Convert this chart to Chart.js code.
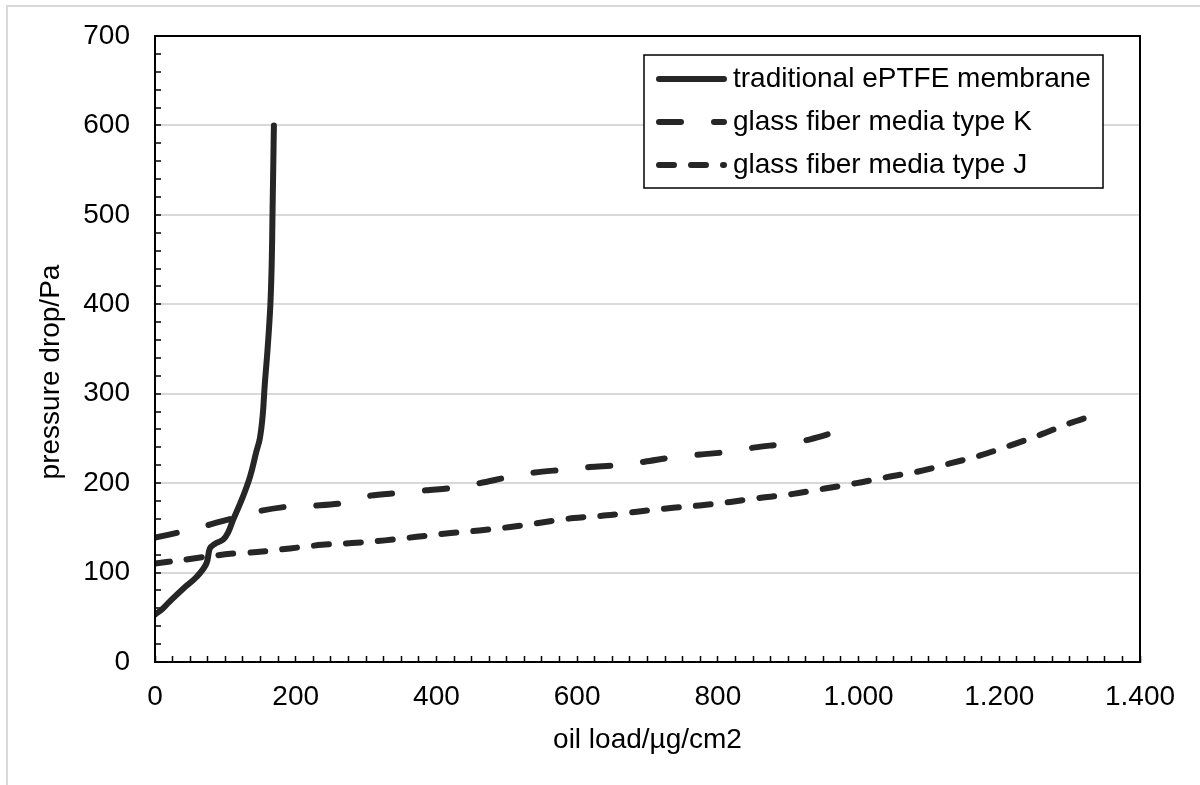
<!DOCTYPE html>
<html>
<head>
<meta charset="utf-8">
<title>pressure drop vs oil load</title>
<script src="https://cdn.jsdelivr.net/npm/chart.js@4.4.0/dist/chart.umd.min.js"></script>
<style>
  html, body { margin: 0; padding: 0; background: #fff; }
  #wrap { width: 1200px; height: 785px; }
</style>
</head>
<body>
<div id="wrap"><canvas id="pressureChart" width="1200" height="785"></canvas></div>
<script>
// values: oil load in µg/cm2, pressure drop in Pa
const eptfeLoad = [0, 10, 20, 40, 59, 73, 78, 85, 97, 104, 111, 124, 135, 144, 149, 153, 156, 160, 164, 166, 167, 168, 169];
const eptfePressure = [53, 59, 67, 82, 95, 110, 127, 132, 137, 145, 159, 183, 207, 235, 250, 275, 310, 350, 400, 450, 500, 550, 600];

const typeKLoad = [0, 40, 75, 107, 150, 192, 230, 270, 306, 348, 385, 426, 462, 504, 540, 581, 618, 658, 696, 738, 775, 816, 853, 895, 931, 971];
const typeKPressure = [139, 146, 153, 160, 169, 174, 175, 178, 186, 189, 192, 195, 200, 207, 212, 215, 218, 220, 224, 229, 232, 235, 240, 244, 249, 258];

const typeJLoad = [0, 38, 76, 107, 145, 192, 237, 280, 327, 372, 417, 461, 505, 550, 595, 642, 685, 730, 774, 818, 864, 907, 952, 997, 1042, 1085, 1130, 1173, 1215, 1258, 1300, 1335];
const typeJPressure = [110, 114, 118, 121, 123, 127, 131, 133, 136, 140, 144, 147, 151, 156, 161, 164, 168, 172, 175, 179, 184, 188, 194, 200, 207, 213, 222, 231, 242, 254, 267, 276];

const seriesNames = ['traditional ePTFE membrane', 'glass fiber media type K', 'glass fiber media type J'];
const xTitle = 'oil load/µg/cm2';
const yTitle = 'pressure drop/Pa';

const FONT = '"Liberation Sans", Arial, sans-serif';
const LINE_COLOR = '#262626';

Chart.defaults.font.family = FONT;
Chart.defaults.font.size = 28;
Chart.defaults.color = '#000';

const toPoints = (xs, ys) => xs.map((x, i) => ({ x: x, y: ys[i] }));

// 1.000 style thousands separator, like the source
const fmtLoad = (v) => {
  if (v < 1000) return String(v);
  const rest = String(v % 1000).padStart(3, '0');
  return Math.floor(v / 1000) + '.' + rest;
};

// frame, axis titles and the boxed legend
const extras = {
  id: 'extras',
  beforeDraw(chart) {
    const ctx = chart.ctx;
    ctx.save();
    ctx.strokeStyle = '#d9d9d9';
    ctx.lineWidth = 2;
    ctx.beginPath();
    ctx.moveTo(7, 785);
    ctx.lineTo(7, 6);
    ctx.lineTo(1200, 6);
    ctx.stroke();
    ctx.restore();
  },
  afterDraw(chart) {
    const ctx = chart.ctx;
    const a = chart.chartArea;
    ctx.save();
    ctx.strokeStyle = '#000';
    ctx.lineWidth = 2;
    ctx.strokeRect(a.left, a.top, a.right - a.left, a.bottom - a.top);

    ctx.fillStyle = '#000';
    ctx.font = '28px ' + FONT;
    ctx.textAlign = 'center';
    ctx.textBaseline = 'alphabetic';
    ctx.fillText(xTitle, (a.left + a.right) / 2, a.bottom + 86);

    ctx.save();
    ctx.translate(51, a.bottom - 290);
    ctx.rotate(-Math.PI / 2);
    ctx.textBaseline = 'middle';
    ctx.fillText(yTitle, 0, 0);
    ctx.restore();

    // legend
    const bx = a.right - 496, by = a.top + 19, bw = 459, bh = 133;
    ctx.fillStyle = '#fff';
    ctx.fillRect(bx, by, bw, bh);
    ctx.lineWidth = 1.5;
    ctx.strokeRect(bx, by, bw, bh);
    chart.data.datasets.forEach((ds, i) => {
      const cy = by + 24 + i * 43;
      ctx.save();
      ctx.strokeStyle = ds.borderColor;
      ctx.lineWidth = ds.borderWidth;
      ctx.lineCap = 'round';
      ctx.setLineDash(ds.borderDash || []);
      ctx.beginPath();
      ctx.moveTo(bx + 15, cy);
      ctx.lineTo(bx + 80, cy);
      ctx.stroke();
      ctx.restore();
      ctx.fillStyle = '#000';
      ctx.textAlign = 'left';
      ctx.textBaseline = 'middle';
      ctx.fillText(ds.label, bx + 89, cy);
    });
    ctx.restore();
  }
};

new Chart(document.getElementById('pressureChart').getContext('2d'), {
  type: 'line',
  data: {
    datasets: [
      {
        label: seriesNames[0],
        data: toPoints(eptfeLoad, eptfePressure),
        borderColor: LINE_COLOR,
        borderWidth: 6,
        borderCapStyle: 'round',
        borderDash: [],
        tension: 0.4,
        pointRadius: 0
      },
      {
        label: seriesNames[1],
        data: toPoints(typeKLoad, typeKPressure),
        borderColor: LINE_COLOR,
        borderWidth: 6,
        borderCapStyle: 'round',
        borderDash: [22, 33],
        tension: 0.3,
        pointRadius: 0
      },
      {
        label: seriesNames[2],
        data: toPoints(typeJLoad, typeJPressure),
        borderColor: LINE_COLOR,
        borderWidth: 6,
        borderCapStyle: 'round',
        borderDash: [15, 17],
        tension: 0.3,
        pointRadius: 0
      }
    ]
  },
  options: {
    responsive: false,
    animation: false,
    layout: { padding: { left: 0, top: 36, right: 60, bottom: 0 } },
    plugins: {
      legend: { display: false },
      tooltip: { enabled: false }
    },
    scales: {
      x: {
        type: 'linear',
        min: 0,
        max: 1400,
        afterFit: (scale) => {
          scale.height = 123;
          scale.paddingLeft = 0;
          scale.paddingRight = 0;
        },
        border: { color: '#000', width: 2 },
        grid: {
          drawOnChartArea: false,
          tickLength: -6,
          tickColor: '#000',
          tickWidth: 1.5
        },
        ticks: {
          stepSize: 25,
          maxTicksLimit: 200,
          autoSkip: false,
          minRotation: 0,
          maxRotation: 0,
          padding: 24,
          color: '#000',
          callback: (v) => (v % 200 === 0 ? fmtLoad(v) : '')
        }
      },
      y: {
        min: 0,
        max: 700,
        afterFit: (scale) => {
          scale.width = 155;
          scale.paddingTop = 0;
          scale.paddingBottom = 0;
        },
        border: { color: '#000', width: 2 },
        grid: {
          color: (c) => (c.tick && c.tick.value % 100 === 0 ? '#d9d9d9' : 'rgba(0,0,0,0)'),
          lineWidth: 2,
          tickLength: -6,
          tickColor: '#000',
          tickWidth: 1.5
        },
        ticks: {
          stepSize: 20,
          maxTicksLimit: 200,
          autoSkip: false,
          padding: 31,
          color: '#000',
          callback: (v) => (v % 100 === 0 ? String(v) : '')
        }
      }
    }
  },
  plugins: [extras]
});
</script>
</body>
</html>
